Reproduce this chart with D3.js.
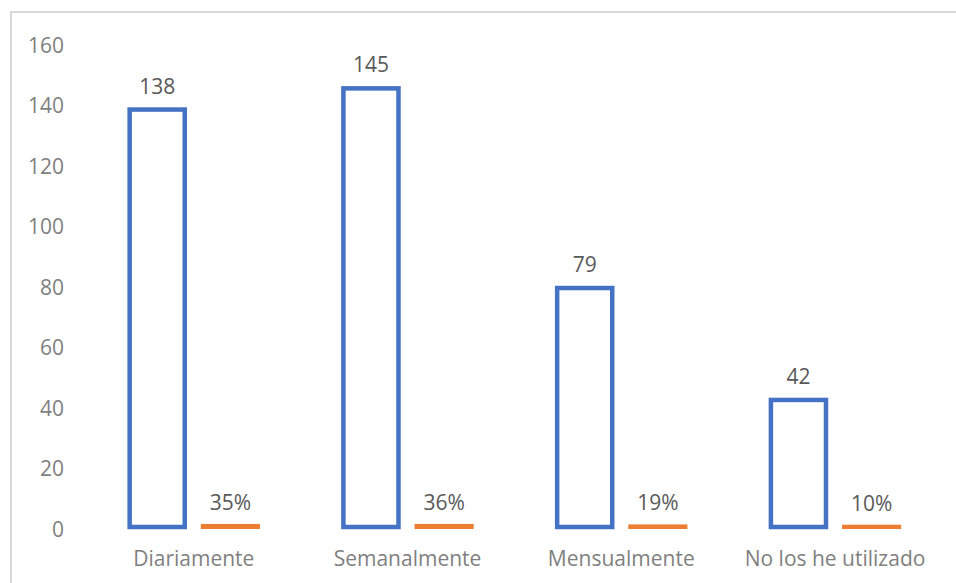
<!DOCTYPE html>
<html>
<head>
<meta charset="utf-8">
<script src="https://cdn.jsdelivr.net/npm/d3@7"></script>
<style>
  html, body { margin: 0; padding: 0; background: #ffffff; }
  svg { display: block; }
  text { font-family: "Open Sans", "Noto Sans", sans-serif; }
</style>
</head>
<body>
<svg id="chart" width="956" height="583"></svg>
<script>
// Frequency categories and the two series drawn for each one
const categories = ["Diariamente", "Semanalmente", "Mensualmente", "No los he utilizado"];
const seriesNames = ["Cantidad", "Porcentaje"];
const counts = [138, 145, 79, 42];
const shares = [0.35, 0.36, 0.19, 0.10];
const shareLabels = ["35%", "36%", "19%", "10%"];
const yTicks = [0, 20, 40, 60, 80, 100, 120, 140, 160];

const W = 956, H = 583;
const svg = d3.select("#chart");

// Outer frame (only top and left edges fall inside the view)
svg.append("rect")
  .attr("x", 11).attr("y", 12)
  .attr("width", W + 20).attr("height", H + 20)
  .attr("fill", "none")
  .attr("stroke", "#d9d9d9")
  .attr("stroke-width", 2);

const x0 = d3.scaleBand()
  .domain(categories)
  .range([86.9, 941.9])
  .paddingInner(0.4)
  .paddingOuter(0.2);

const x1 = d3.scaleBand()
  .domain(seriesNames)
  .range([0, x0.bandwidth()])
  .paddingInner(0.247);

const y = d3.scaleLinear().domain([0, 160]).range([527, 43]);

// Y axis labels only
const yAxis = svg.append("g")
  .attr("transform", "translate(64,0)")
  .call(d3.axisLeft(y).tickValues(yTicks).tickSize(0).tickPadding(0));
yAxis.select(".domain").remove();
yAxis.selectAll("text")
  .attr("dy", "0.43em")
  .attr("fill", "#7f7f7f")
  .style("font-size", "21px")
  .style("font-family", "'Open Sans', 'Noto Sans', sans-serif");

// Category labels
const xAxis = svg.append("g")
  .attr("transform", `translate(0,${y(0)})`)
  .call(d3.axisBottom(x0).tickSize(0).tickPadding(24));
xAxis.select(".domain").remove();
xAxis.selectAll("text")
  .attr("fill", "#7f7f7f")
  .style("font-size", "21px")
  .style("font-family", "'Open Sans', 'Noto Sans', sans-serif");

const rows = categories.map((c, i) => ({ c, count: counts[i], share: shares[i], label: shareLabels[i] }));

// Count bars: outlined, white inside
svg.append("g").selectAll("rect")
  .data(rows).join("rect")
  .attr("x", d => x0(d.c) + x1(seriesNames[0]))
  .attr("y", d => y(d.count))
  .attr("width", x1.bandwidth())
  .attr("height", d => y(0) - y(d.count))
  .attr("fill", "#ffffff")
  .attr("stroke", "#4472c4")
  .attr("stroke-width", 4.5);

// Share bars (values are fractions on the same axis, so they sit flat on zero)
svg.append("g").selectAll("rect")
  .data(rows).join("rect")
  .attr("x", d => x0(d.c) + x1(seriesNames[1]))
  .attr("y", d => y(d.share))
  .attr("width", x1.bandwidth())
  .attr("height", d => y(0) - y(d.share))
  .attr("fill", "#ed7d31")
  .attr("stroke", "#ed7d31")
  .attr("stroke-width", 4);

// Data labels
const labels = svg.append("g")
  .attr("fill", "#595959")
  .attr("text-anchor", "middle")
  .style("font-size", "21px");

labels.selectAll("text.count")
  .data(rows).join("text")
  .attr("class", "count")
  .attr("x", d => x0(d.c) + x1(seriesNames[0]) + x1.bandwidth() / 2)
  .attr("y", d => y(d.count) - 16)
  .text(d => d.count);

labels.selectAll("text.share")
  .data(rows).join("text")
  .attr("class", "share")
  .attr("x", d => x0(d.c) + x1(seriesNames[1]) + x1.bandwidth() / 2)
  .attr("y", d => y(d.share) - 16)
  .text(d => d.label);
</script>
</body>
</html>
